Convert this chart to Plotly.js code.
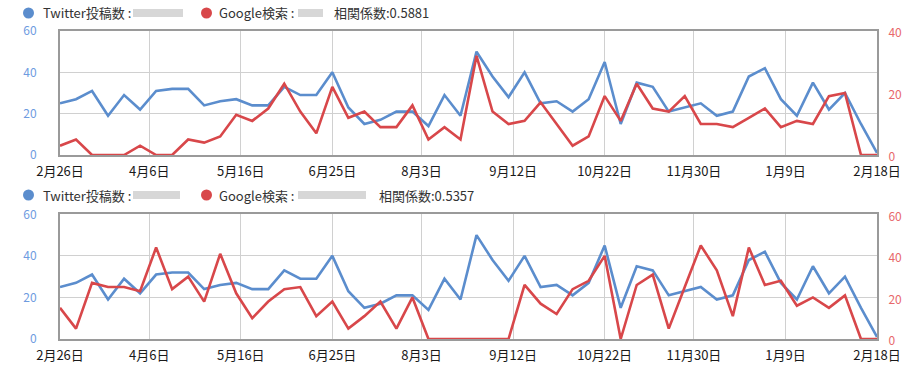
<!DOCTYPE html>
<html>
<head>
<meta charset="utf-8">
<script src="https://cdn.plot.ly/plotly-3.0.1.min.js"></script>
<style>html,body{margin:0;padding:0;background:#fff;}#chart{width:910px;height:366px;}</style>
</head>
<body>
<div id="chart"></div>
<script>
// ---- data ----
var weeks = ['2013-02-26','2013-03-05','2013-03-12','2013-03-19','2013-03-26','2013-04-02','2013-04-09','2013-04-16','2013-04-23','2013-04-30',
  '2013-05-07','2013-05-14','2013-05-21','2013-05-28','2013-06-04','2013-06-11','2013-06-18','2013-06-25','2013-07-02','2013-07-09',
  '2013-07-16','2013-07-23','2013-07-30','2013-08-06','2013-08-13','2013-08-20','2013-08-27','2013-09-03','2013-09-10','2013-09-17',
  '2013-09-24','2013-10-01','2013-10-08','2013-10-15','2013-10-22','2013-10-29','2013-11-05','2013-11-12','2013-11-19','2013-11-26',
  '2013-12-03','2013-12-10','2013-12-17','2013-12-24','2013-12-31','2014-01-07','2014-01-14','2014-01-21','2014-01-28','2014-02-04',
  '2014-02-11','2014-02-18'];
var twitterPosts = [25,27,31,19,29,22,31,32,32,24,26,27,24,24,33,29,
  29,40,23,15,17,21,21,14,29,19,50,38,28,40,25,26,21,27,45,
  15,35,33,21,23,25,19,21,38,42,27,19,35,22,30,15,1];
var googleSearchA = [3,5,0,0,0,3,0,0,5,4,6,13,11,15,23,14,
  7,22,12,14,9,9,16,5,9,5,32,14,10,11,17,10,3,6,19,
  11,23,15,14,19,10,10,9,12,15,9,11,10,19,20,0,0];
var googleSearchB = [15,5,27,25,25,23,44,24,30,18,41,22,10,18,24,25,
  11,18,5,11,18,5,20,0,0,0,0,0,0,26,17,12,24,28,40,
  0,26,31,5,25,45,33,11,44,26,28,16,20,15,21,0,0];
var tickDates = ['2013-02-26','2013-04-06','2013-05-16','2013-06-25','2013-08-03','2013-09-12','2013-10-22','2013-11-30','2014-01-09','2014-02-18'];
var tickLabels = ['2月26日','4月6日','5月16日','6月25日','8月3日','9月12日','10月22日','11月30日','1月9日','2月18日'];
var leftTicks = [0,20,40,60];
var rightTicksA = [0,20,40];
var rightTicksB = [0,20,40,60];
var seriesNames = ['Twitter投稿数 : ','Google検索 : '];
var corrA = '相関係数:0.5881';
var corrB = '相関係数:0.5357';

// ---- style ----
var BLUE = '#5b8dcd', RED = '#d8474a';
var W = 910, H = 366, ML = 60, MR = 33, MT = 31, MB = 27;
var PW = W - ML - MR, PH = H - MT - MB;
function PX(p){ return (p - ML) / PW; }
function PY(p){ return (H - MB - p) / PH; }
var FONT = '"Noto Sans CJK JP", "Noto Sans", sans-serif';

var traces = [
  {x: weeks, y: twitterPosts, xaxis:'x', yaxis:'y', type:'scatter', mode:'lines', line:{color:BLUE, width:2.6}, hoverinfo:'skip'},
  {x: weeks, y: googleSearchA, xaxis:'x', yaxis:'y2', type:'scatter', mode:'lines', line:{color:RED, width:2.6}, hoverinfo:'skip'},
  {x: weeks, y: twitterPosts, xaxis:'x2', yaxis:'y3', type:'scatter', mode:'lines', line:{color:BLUE, width:2.6}, hoverinfo:'skip'},
  {x: weeks, y: googleSearchB, xaxis:'x2', yaxis:'y4', type:'scatter', mode:'lines', line:{color:RED, width:2.6}, hoverinfo:'skip'}
];

function xax(anchor){
  return {type:'date', anchor:anchor, range:[weeks[0], weeks[weeks.length-1]], tickmode:'array', tickvals:tickDates, ticktext:tickLabels,
    showgrid:true, gridcolor:'#d0d0d0', gridwidth:1, zeroline:false, showline:true, mirror:true, linecolor:'#9a9a9a', linewidth:2,
    ticks:'outside', ticklen:3, tickcolor:'rgba(0,0,0,0)', tickfont:{family:FONT, size:13, color:'#1a1a1a'}, fixedrange:true};
}
function yleft(domain, ticks){
  return {domain:domain, range:[0,60], tickmode:'array', tickvals:ticks, showgrid:true, gridcolor:'#d0d0d0', gridwidth:1,
    zeroline:false, showline:true, mirror:true, linecolor:'#9a9a9a', linewidth:2,
    ticks:'outside', ticklen:19, tickcolor:'rgba(0,0,0,0)', tickfont:{family:FONT, size:12, color:'#6e9bdf'}, fixedrange:true};
}
function yright(over, anchor, maxv, ticks){
  return {overlaying:over, anchor:anchor, side:'right', range:[0,maxv], tickmode:'array', tickvals:ticks, showgrid:false,
    zeroline:false, showline:false, ticks:'outside', ticklen:8, tickcolor:'rgba(0,0,0,0)', ticklabelshift:2,
    tickfont:{family:FONT, size:12, color:'#e8686b'}, fixedrange:true};
}

var topDom = [PY(155), 1], botDom = [0, PY(214.3)];

var shapes = [], annotations = [];
function legendRow(cy, blurA, blurB, corrText, corrX){
  shapes.push({type:'circle', xref:'paper', yref:'paper', x0:PX(23), x1:PX(34), y0:PY(cy+5.5), y1:PY(cy-5.5), fillcolor:BLUE, line:{width:0}});
  shapes.push({type:'circle', xref:'paper', yref:'paper', x0:PX(201), x1:PX(212), y0:PY(cy+5.5), y1:PY(cy-5.5), fillcolor:RED, line:{width:0}});
  // redacted (blurred) blocks
  shapes.push({type:'rect', xref:'paper', yref:'paper', x0:PX(blurA[0]), x1:PX(blurA[1]), y0:PY(cy+4), y1:PY(cy-4), fillcolor:'#c9c9c9', opacity:0.75, line:{width:0}});
  shapes.push({type:'rect', xref:'paper', yref:'paper', x0:PX(blurB[0]), x1:PX(blurB[1]), y0:PY(cy+4), y1:PY(cy-4), fillcolor:'#c9c9c9', opacity:0.75, line:{width:0}});
  var f = {family:FONT, size:13, color:'#333'};
  annotations.push({xref:'paper', yref:'paper', x:PX(41), y:PY(cy), xanchor:'left', yanchor:'middle', text:seriesNames[0], showarrow:false, font:f});
  annotations.push({xref:'paper', yref:'paper', x:PX(217), y:PY(cy), xanchor:'left', yanchor:'middle', text:seriesNames[1], showarrow:false, font:f});
  annotations.push({xref:'paper', yref:'paper', x:PX(corrX), y:PY(cy), xanchor:'left', yanchor:'middle', text:corrText, showarrow:false, font:f});
}
legendRow(13, [133,183], [298,323], corrA, 332);
legendRow(195, [133,180], [298,366], corrB, 377);

var layout = {
  width:W, height:H, margin:{l:ML, r:MR, t:MT, b:MB, pad:0},
  paper_bgcolor:'#fff', plot_bgcolor:'#fff', showlegend:false,
  font:{family:FONT},
  xaxis: xax('y'),
  xaxis2: xax('y3'),
  yaxis: yleft(topDom, leftTicks),
  yaxis2: yright('y', 'x', 40, rightTicksA),
  yaxis3: yleft(botDom, leftTicks),
  yaxis4: yright('y3', 'x2', 60, rightTicksB),
  shapes: shapes, annotations: annotations
};
Plotly.newPlot('chart', traces, layout, {staticPlot:true, displayModeBar:false});
</script>
</body>
</html>
